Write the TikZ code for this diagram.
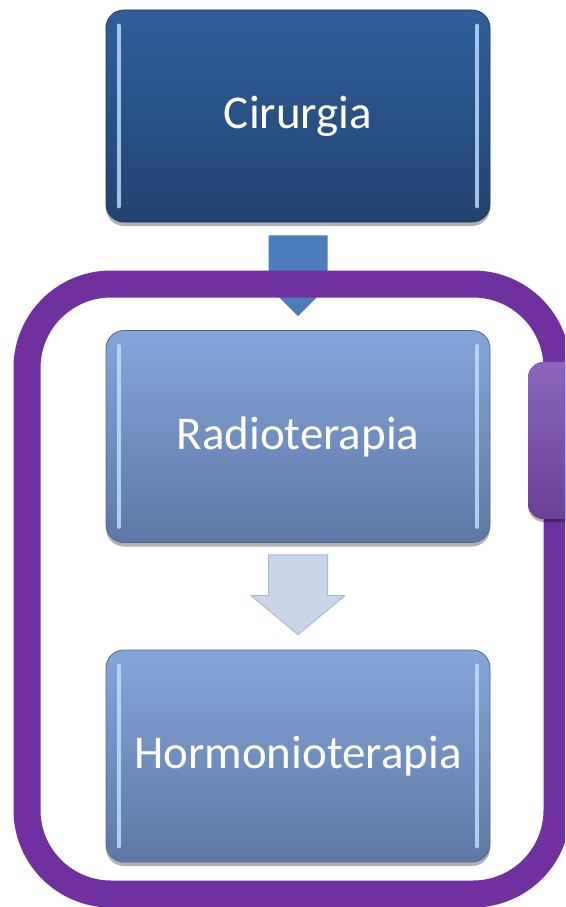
\documentclass[tikz,border=0pt]{standalone}
\usepackage{fontspec}
\setmainfont{Carlito}
\usetikzlibrary{calc,shadows}
\definecolor{darkTop}{HTML}{2F5F9C}
\definecolor{darkBot}{HTML}{22436F}
\definecolor{darkEdge}{HTML}{1C355A}
\definecolor{lightTop}{HTML}{83A6DA}
\definecolor{lightBot}{HTML}{5E78A4}
\definecolor{lightEdge}{HTML}{4F6791}
\definecolor{hiLight}{HTML}{C4E2FF}
\definecolor{arrowDark}{HTML}{4B7DBB}
\definecolor{arrowLight}{HTML}{C9D6EA}
\definecolor{arrowLightEdge}{HTML}{A9BBD8}
\definecolor{frameViolet}{HTML}{7030A0}
\definecolor{tabTop}{HTML}{8C64BA}
\definecolor{tabBot}{HTML}{6A4196}
\tikzset{
  stepbox/.style={rounded corners=18pt, minimum width=384pt, minimum height=212pt,
    inner sep=0pt, text=white, font=\fontsize{47}{56}\selectfont,
    drop shadow={shadow xshift=0pt, shadow yshift=-4pt, opacity=0.3, fill=black}},
  darkbox/.style={stepbox, top color=darkTop, bottom color=darkBot, draw=darkEdge, line width=0.8pt},
  lightbox/.style={stepbox, top color=lightTop, bottom color=lightBot, draw=lightEdge, line width=0.8pt},
  hiline/.style={line width=4pt, line cap=round, draw=hiLight, opacity=0.8},
  frameline/.style={line width=27pt, draw=frameViolet, rounded corners=84pt},
}
\begin{document}
\begin{tikzpicture}[x=1pt,y=1pt]
\useasboundingbox (0,0) rectangle (565,-907);
\clip (0,0) rectangle (565,-907);
\fill[white] (0,0) rectangle (565,-907);

% boxes
\node[darkbox] (cir) at (298,-116) {Cirurgia};
\node[lightbox] (rad) at (298,-436.5) {Radioterapia};
\node[lightbox] (hor) at (298,-756) {Hormonioterapia};

% bevel highlights
\foreach \b in {cir,rad,hor}{
  \draw[hiline] ($(\b.north west)+(13,-16)$) -- ($(\b.south west)+(13,16)$);
  \draw[hiline] ($(\b.north east)+(-13,-16)$) -- ($(\b.south east)+(-13,16)$);
}

% arrow from Cirurgia to Radioterapia
\coordinate (a1s) at ($(cir.south)+(0,-13)$);
\coordinate (a1e) at ($(rad.north)+(0,14)$);
\fill[arrowDark] ($(a1s)+(-29.5,0)$) -- ($(a1s)+(29.5,0)$) -- ($(a1e)+(29.5,40)$)
  -- ($(a1e)+(40,40)$) -- (a1e) -- ($(a1e)+(-40,40)$) -- ($(a1e)+(-29.5,40)$) -- cycle;

% violet frame
\draw[frameline] (27,-284) rectangle (557,-894);

% side tab
\fill[top color=tabTop, bottom color=tabBot, rounded corners=16pt,
  drop shadow={shadow xshift=0pt, shadow yshift=-3pt, opacity=0.3, fill=black}]
  (528,-362) rectangle (610,-519);

% arrow from Radioterapia to Hormonioterapia
\coordinate (a2s) at ($(rad.south)+(0,-12)$);
\coordinate (a2e) at ($(hor.north)+(0,15)$);
\filldraw[fill=arrowLight, draw=arrowLightEdge, line width=1pt, line join=round]
  ($(a2s)+(-29.5,0)$) -- ($(a2s)+(29.5,0)$) -- ($(a2e)+(29.5,39)$)
  -- ($(a2e)+(47,39)$) -- (a2e) -- ($(a2e)+(-47,39)$) -- ($(a2e)+(-29.5,39)$) -- cycle;
\end{tikzpicture}
\end{document}
